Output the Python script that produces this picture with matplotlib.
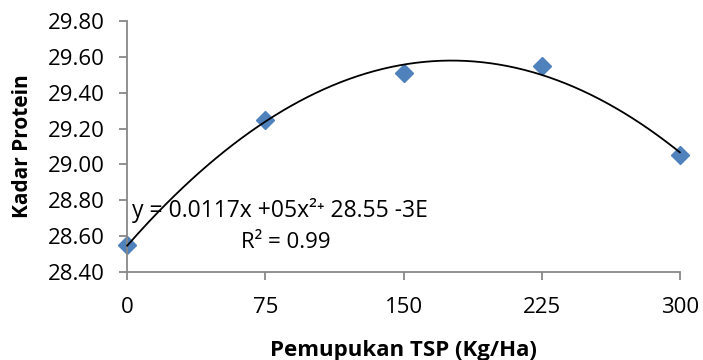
from matplotlib import pyplot as plt
import numpy as np

plt.rcParams['font.family'] = ['Open Sans', 'DejaVu Sans']

tsp = [0, 75, 150, 225, 300]
protein = [28.55, 29.25, 29.51, 29.55, 29.05]
x_ticks = [0, 75, 150, 225, 300]
y_ticks = [28.40, 28.60, 28.80, 29.00, 29.20, 29.40, 29.60, 29.80]


def main():
    fig = plt.figure(figsize=(7.03, 3.6), dpi=100)
    ax = fig.add_axes([0.181, 0.244, 0.786, 0.698])

    # polynomial trendline (order 2) from the points
    coef = np.polyfit(tsp, protein, 2)
    xs = np.linspace(0, 300, 200)
    ax.plot(xs, np.polyval(coef, xs), color='black', lw=1.3, zorder=3, clip_on=False)

    ax.plot(tsp, protein, 'D', color='#4F81BD', markersize=9.5, zorder=2, clip_on=False)

    ax.set_xlim(0, 300)
    ax.set_ylim(28.40, 29.80)
    ax.set_xticks(x_ticks)
    ax.set_yticks(y_ticks)
    ax.set_yticklabels(['%.2f' % v for v in y_ticks])
    ax.tick_params(labelsize=16, color='#888888', length=6, width=1.3, pad=12)
    ax.tick_params(axis='y', pad=10)

    for s in ['top', 'right']:
        ax.spines[s].set_visible(False)
    for s in ['left', 'bottom']:
        ax.spines[s].set_color('#888888')
        ax.spines[s].set_linewidth(1.3)

    ax.set_xlabel('Pemupukan TSP (Kg/Ha)', fontsize=16, fontweight='bold', labelpad=16)
    ax.set_ylabel('Kadar Protein', fontsize=15, fontweight='bold', labelpad=11)

    ax.text(2.7, 28.745, 'y = 0.0117x +05x²⁺ 28.55 -3E', fontsize=16.5, va='center', ha='left')
    ax.text(86, 28.567, 'R² = 0.99', fontsize=16, va='center', ha='center')

    plt.savefig('out.png')


if __name__ == "__main__":
    main()
